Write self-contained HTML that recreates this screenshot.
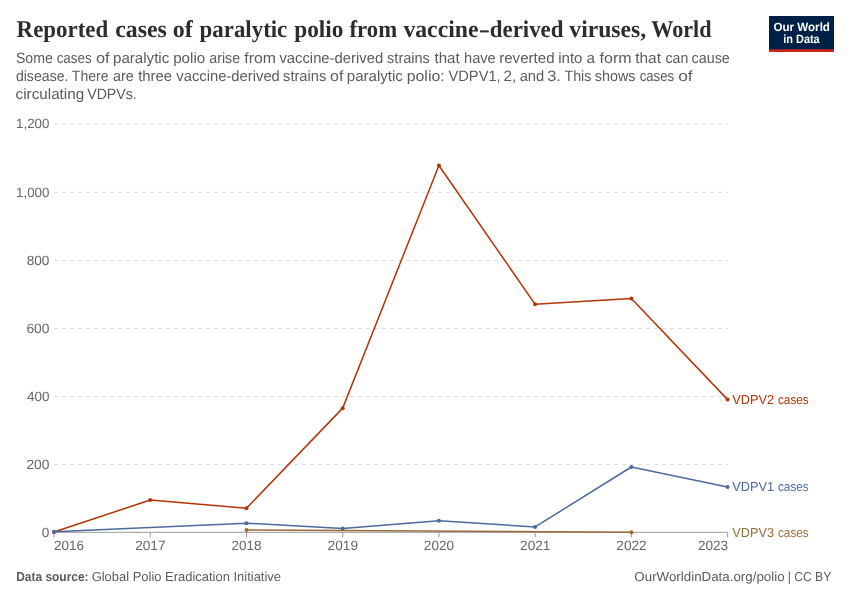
<!DOCTYPE html>
<html lang="en"><head><meta charset="utf-8"><title>Reported cases of paralytic polio from vaccine-derived viruses, World</title>
<style>
html,body{margin:0;padding:0;background:#fff;}
body{width:850px;height:600px;overflow:hidden;}
svg{display:block;}
text{font-family:"Liberation Sans",sans-serif;text-rendering:geometricPrecision;}
.title{font-family:"Liberation Serif",serif;font-weight:bold;font-size:24px;fill:#2d2d2d;}
.sub{font-size:15px;fill:#5b5b5b;}
.tick{font-size:13.4px;fill:#666;}
.foot{font-size:13px;fill:#5b5b5b;}
.lab{font-size:13px;}
.logo{font-size:12px;font-weight:bold;fill:#fff;}
</style></head><body>
<svg width="850" height="600" viewBox="0 0 850 600">
<rect width="850" height="600" fill="#fff"/>
<rect x="769" y="16" width="65" height="36" fill="#002147"/>
<rect x="769" y="49.3" width="65" height="2.7" fill="#ce261e"/>

<line x1="54" x2="728.3" y1="464.63" y2="464.63" stroke="#ddd" stroke-width="1" stroke-dasharray="4,4"/>
<line x1="54" x2="728.3" y1="396.56" y2="396.56" stroke="#ddd" stroke-width="1" stroke-dasharray="4,4"/>
<line x1="54" x2="728.3" y1="328.49" y2="328.49" stroke="#ddd" stroke-width="1" stroke-dasharray="4,4"/>
<line x1="54" x2="728.3" y1="260.42" y2="260.42" stroke="#ddd" stroke-width="1" stroke-dasharray="4,4"/>
<line x1="54" x2="728.3" y1="192.35" y2="192.35" stroke="#ddd" stroke-width="1" stroke-dasharray="4,4"/>
<line x1="54" x2="728.3" y1="124.28" y2="124.28" stroke="#ddd" stroke-width="1" stroke-dasharray="4,4"/>
<line x1="54" x2="727.6" y1="532.3" y2="532.3" stroke="#999" stroke-width="1"/>
<line x1="54.00" x2="54.00" y1="532.3" y2="537.3" stroke="#999" stroke-width="1"/>
<line x1="150.23" x2="150.23" y1="532.3" y2="537.3" stroke="#999" stroke-width="1"/>
<line x1="246.46" x2="246.46" y1="532.3" y2="537.3" stroke="#999" stroke-width="1"/>
<line x1="342.69" x2="342.69" y1="532.3" y2="537.3" stroke="#999" stroke-width="1"/>
<line x1="438.91" x2="438.91" y1="532.3" y2="537.3" stroke="#999" stroke-width="1"/>
<line x1="535.14" x2="535.14" y1="532.3" y2="537.3" stroke="#999" stroke-width="1"/>
<line x1="631.37" x2="631.37" y1="532.3" y2="537.3" stroke="#999" stroke-width="1"/>
<line x1="727.60" x2="727.60" y1="532.3" y2="537.3" stroke="#999" stroke-width="1"/>
<polyline fill="none" stroke="#996D39" stroke-width="1.5" stroke-linejoin="round" stroke-linecap="round" points="246.46,529.98 631.37,532.36"/>
<circle cx="246.46" cy="529.98" r="2" fill="#996D39"/>
<circle cx="631.37" cy="532.36" r="2" fill="#996D39"/>
<polyline fill="none" stroke="#B13507" stroke-width="1.5" stroke-linejoin="round" stroke-linecap="round" points="54.00,532.02 150.23,500.03 246.46,508.19 342.69,408.13 438.91,165.46 535.14,304.33 631.37,298.54 727.60,399.62"/>
<circle cx="54.00" cy="532.02" r="2" fill="#B13507"/>
<circle cx="150.23" cy="500.03" r="2" fill="#B13507"/>
<circle cx="246.46" cy="508.19" r="2" fill="#B13507"/>
<circle cx="342.69" cy="408.13" r="2" fill="#B13507"/>
<circle cx="438.91" cy="165.46" r="2" fill="#B13507"/>
<circle cx="535.14" cy="304.33" r="2" fill="#B13507"/>
<circle cx="631.37" cy="298.54" r="2" fill="#B13507"/>
<circle cx="727.60" cy="399.62" r="2" fill="#B13507"/>
<polyline fill="none" stroke="#4C6A9C" stroke-width="1.5" stroke-linejoin="round" stroke-linecap="round" points="54.00,531.68 246.46,523.17 342.69,528.62 438.91,520.79 535.14,526.91 631.37,467.01 727.60,487.09"/>
<circle cx="54.00" cy="531.68" r="2" fill="#4C6A9C"/>
<circle cx="246.46" cy="523.17" r="2" fill="#4C6A9C"/>
<circle cx="342.69" cy="528.62" r="2" fill="#4C6A9C"/>
<circle cx="438.91" cy="520.79" r="2" fill="#4C6A9C"/>
<circle cx="535.14" cy="526.91" r="2" fill="#4C6A9C"/>
<circle cx="631.37" cy="467.01" r="2" fill="#4C6A9C"/>
<circle cx="727.60" cy="487.09" r="2" fill="#4C6A9C"/>
<text class="title"><tspan x="16.62" y="36.80" textLength="91.59" lengthAdjust="spacingAndGlyphs">Reported</tspan> <tspan x="115.15" y="36.80" textLength="51.68" lengthAdjust="spacingAndGlyphs">cases</tspan> <tspan x="172.80" y="36.80" textLength="19.94" lengthAdjust="spacingAndGlyphs">of</tspan> <tspan x="199.56" y="36.80" textLength="87.74" lengthAdjust="spacingAndGlyphs">paralytic</tspan> <tspan x="294.26" y="36.80" textLength="49.15" lengthAdjust="spacingAndGlyphs">polio</tspan> <tspan x="349.56" y="36.80" textLength="47.57" lengthAdjust="spacingAndGlyphs">from</tspan> <tspan x="403.40" y="36.80" textLength="75.11" lengthAdjust="spacingAndGlyphs">vaccine</tspan><tspan x="478.88" y="36.80" textLength="11.32" lengthAdjust="spacingAndGlyphs">-</tspan><tspan x="489.75" y="36.80" textLength="73.76" lengthAdjust="spacingAndGlyphs">derived</tspan> <tspan x="569.30" y="36.80" textLength="76.89" lengthAdjust="spacingAndGlyphs">viruses,</tspan> <tspan x="651.27" y="36.80" textLength="60.15" lengthAdjust="spacingAndGlyphs">World</tspan></text>
<text class="sub"><tspan x="15.89" y="62.90" textLength="36.85" lengthAdjust="spacingAndGlyphs">Some</tspan> <tspan x="56.63" y="62.90" textLength="34.96" lengthAdjust="spacingAndGlyphs">cases</tspan> <tspan x="95.98" y="62.90" textLength="13.63" lengthAdjust="spacingAndGlyphs">of</tspan> <tspan x="113.09" y="62.90" textLength="56.16" lengthAdjust="spacingAndGlyphs">paralytic</tspan> <tspan x="173.19" y="62.90" textLength="32.01" lengthAdjust="spacingAndGlyphs">polio</tspan> <tspan x="209.29" y="62.90" textLength="30.83" lengthAdjust="spacingAndGlyphs">arise</tspan> <tspan x="244.34" y="62.90" textLength="31.62" lengthAdjust="spacingAndGlyphs">from</tspan> <tspan x="279.40" y="62.90" textLength="103.74" lengthAdjust="spacingAndGlyphs">vaccine-derived</tspan> <tspan x="387.12" y="62.90" textLength="42.70" lengthAdjust="spacingAndGlyphs">strains</tspan> <tspan x="434.55" y="62.90" textLength="25.07" lengthAdjust="spacingAndGlyphs">that</tspan> <tspan x="464.02" y="62.90" textLength="31.73" lengthAdjust="spacingAndGlyphs">have</tspan> <tspan x="499.19" y="62.90" textLength="55.34" lengthAdjust="spacingAndGlyphs">reverted</tspan> <tspan x="558.20" y="62.90" textLength="24.29" lengthAdjust="spacingAndGlyphs">into</tspan> <tspan x="586.64" y="62.90" textLength="8.45" lengthAdjust="spacingAndGlyphs">a</tspan> <tspan x="599.63" y="62.90" textLength="32.03" lengthAdjust="spacingAndGlyphs">form</tspan> <tspan x="635.24" y="62.90" textLength="25.68" lengthAdjust="spacingAndGlyphs">that</tspan> <tspan x="665.49" y="62.90" textLength="22.79" lengthAdjust="spacingAndGlyphs">can</tspan> <tspan x="691.58" y="62.90" textLength="38.26" lengthAdjust="spacingAndGlyphs">cause</tspan></text>
<text class="sub"><tspan x="15.89" y="80.80" textLength="52.59" lengthAdjust="spacingAndGlyphs">disease.</tspan> <tspan x="71.87" y="80.80" textLength="36.57" lengthAdjust="spacingAndGlyphs">There</tspan> <tspan x="112.98" y="80.80" textLength="20.88" lengthAdjust="spacingAndGlyphs">are</tspan> <tspan x="138.15" y="80.80" textLength="33.93" lengthAdjust="spacingAndGlyphs">three</tspan> <tspan x="176.30" y="80.80" textLength="103.54" lengthAdjust="spacingAndGlyphs">vaccine-derived</tspan> <tspan x="283.11" y="80.80" textLength="43.11" lengthAdjust="spacingAndGlyphs">strains</tspan> <tspan x="330.10" y="80.80" textLength="13.31" lengthAdjust="spacingAndGlyphs">of</tspan> <tspan x="346.80" y="80.80" textLength="56.06" lengthAdjust="spacingAndGlyphs">paralytic</tspan> <tspan x="406.74" y="80.80" textLength="37.89" lengthAdjust="spacingAndGlyphs">polio:</tspan> <tspan x="448.50" y="80.80" textLength="52.13" lengthAdjust="spacingAndGlyphs">VDPV1,</tspan> <tspan x="503.64" y="80.80" textLength="12.63" lengthAdjust="spacingAndGlyphs">2,</tspan> <tspan x="519.66" y="80.80" textLength="24.54" lengthAdjust="spacingAndGlyphs">and</tspan> <tspan x="547.18" y="80.80" textLength="13.67" lengthAdjust="spacingAndGlyphs">3.</tspan> <tspan x="564.56" y="80.80" textLength="26.79" lengthAdjust="spacingAndGlyphs">This</tspan> <tspan x="594.82" y="80.80" textLength="40.67" lengthAdjust="spacingAndGlyphs">shows</tspan> <tspan x="639.64" y="80.80" textLength="34.44" lengthAdjust="spacingAndGlyphs">cases</tspan> <tspan x="678.23" y="80.80" textLength="14.48" lengthAdjust="spacingAndGlyphs">of</tspan></text>
<text class="sub"><tspan x="15.64" y="98.60" textLength="68.51" lengthAdjust="spacingAndGlyphs">circulating</tspan> <tspan x="87.20" y="98.60" textLength="49.59" lengthAdjust="spacingAndGlyphs">VDPVs.</tspan></text>
<text class="tick" x="41.69" y="536.90" textLength="7.56" lengthAdjust="spacingAndGlyphs">0</text>
<text class="tick" x="26.43" y="468.83" textLength="22.98" lengthAdjust="spacingAndGlyphs">200</text>
<text class="tick" x="26.95" y="400.76" textLength="22.45" lengthAdjust="spacingAndGlyphs">400</text>
<text class="tick" x="26.43" y="332.69" textLength="22.98" lengthAdjust="spacingAndGlyphs">600</text>
<text class="tick" x="26.69" y="264.62" textLength="22.71" lengthAdjust="spacingAndGlyphs">800</text>
<text class="tick" x="16.11" y="196.55" textLength="33.20" lengthAdjust="spacingAndGlyphs">1,000</text>
<text class="tick" x="16.11" y="128.48" textLength="33.20" lengthAdjust="spacingAndGlyphs">1,200</text>
<text class="tick" x="54.04" y="550.10" textLength="30.10" lengthAdjust="spacingAndGlyphs">2016</text>
<text class="tick" x="135.16" y="550.10" textLength="30.37" lengthAdjust="spacingAndGlyphs">2017</text>
<text class="tick" x="231.40" y="550.10" textLength="30.10" lengthAdjust="spacingAndGlyphs">2018</text>
<text class="tick" x="327.62" y="550.10" textLength="30.37" lengthAdjust="spacingAndGlyphs">2019</text>
<text class="tick" x="423.86" y="550.10" textLength="30.10" lengthAdjust="spacingAndGlyphs">2020</text>
<text class="tick" x="520.08" y="550.10" textLength="30.37" lengthAdjust="spacingAndGlyphs">2021</text>
<text class="tick" x="616.31" y="550.10" textLength="30.37" lengthAdjust="spacingAndGlyphs">2022</text>
<text class="tick" x="697.94" y="550.10" textLength="30.21" lengthAdjust="spacingAndGlyphs">2023</text>
<text class="lab"><tspan x="732.30" y="404.40" textLength="41.72" lengthAdjust="spacingAndGlyphs" fill="#B13507">VDPV2</tspan> <tspan x="777.95" y="404.40" textLength="30.77" lengthAdjust="spacingAndGlyphs" fill="#B13507">cases</tspan></text>
<text class="lab"><tspan x="732.30" y="491.40" textLength="41.72" lengthAdjust="spacingAndGlyphs" fill="#4C6A9C">VDPV1</tspan> <tspan x="777.95" y="491.40" textLength="30.77" lengthAdjust="spacingAndGlyphs" fill="#4C6A9C">cases</tspan></text>
<text class="lab"><tspan x="732.30" y="536.80" textLength="41.72" lengthAdjust="spacingAndGlyphs" fill="#996D39">VDPV3</tspan> <tspan x="777.95" y="536.80" textLength="30.77" lengthAdjust="spacingAndGlyphs" fill="#996D39">cases</tspan></text>
<text class="foot"><tspan x="16.21" y="581.10" textLength="72.34" lengthAdjust="spacingAndGlyphs" font-weight="bold">Data source:</tspan> <tspan x="91.65" y="581.10" textLength="189.39" lengthAdjust="spacingAndGlyphs">Global Polio Eradication Initiative</tspan></text>
<text class="foot"><tspan x="634.39" y="581.10" textLength="150.22" lengthAdjust="spacingAndGlyphs">OurWorldinData.org/polio</tspan> <tspan x="787.63" y="581.10" textLength="43.60" lengthAdjust="spacingAndGlyphs">| CC BY</tspan></text>
<text class="logo"><tspan x="773.42" y="31.40" textLength="56.55" lengthAdjust="spacingAndGlyphs">Our World</tspan> <tspan x="783.22" y="42.90" textLength="36.49" lengthAdjust="spacingAndGlyphs">in Data</tspan></text>
</svg></body></html>
